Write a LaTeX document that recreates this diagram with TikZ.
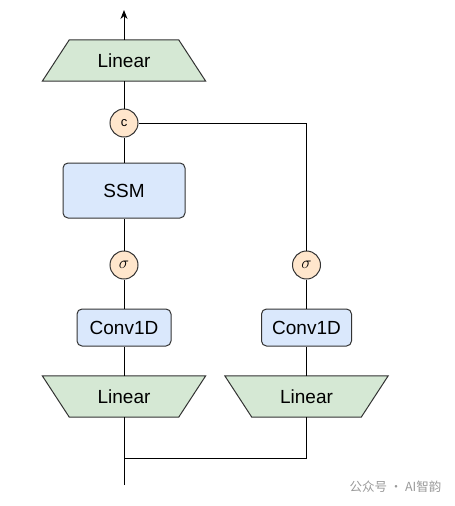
\documentclass[tikz,border=0pt]{standalone}
\usepackage{fontspec}
\setmainfont{Liberation Sans}
\newfontfamily\cjkfont{Noto Sans CJK SC}
\usetikzlibrary{arrows.meta,backgrounds}
\definecolor{lingreen}{HTML}{D5E8D4}
\definecolor{ssmblue}{HTML}{DAE8FC}
\definecolor{gateorange}{HTML}{FFE6CC}
\definecolor{edgegray}{HTML}{333333}
\tikzset{
  every node/.style={font=\fontsize{19}{22}\selectfont},
  linbox/.style={rectangle, minimum width=163pt, minimum height=41pt, inner sep=0pt},
  linshape/.style={draw=edgegray, line width=1pt, fill=lingreen, line join=miter},
  bluebox/.style={rounded corners=5pt, draw=edgegray, line width=1pt, fill=ssmblue, inner sep=0pt},
  gate/.style={circle, draw=edgegray, line width=1pt, fill=gateorange, minimum size=28pt, inner sep=0pt},
  wire/.style={line width=1pt, draw=black},
}
\begin{document}
\begin{tikzpicture}[x=1pt,y=-1pt]
\useasboundingbox (0,0) rectangle (455,506);
% left column
\node[linbox] (lintop) at (124,60.5) {Linear};
\node[gate, font=\fontsize{13}{15}\selectfont] (cat) at (124,123) {c};
\node[bluebox, minimum width=122pt, minimum height=55pt] (ssm) at (124,190.5) {SSM};
\node[gate, font=\fontsize{17}{19}\selectfont] (sigl) at (124,265) {$\sigma$};
\node[bluebox, minimum width=94pt, minimum height=37pt] (convl) at (124,327.5) {Conv1D};
\node[linbox] (linl) at (124,396.5) {Linear};
% right column
\node[gate, font=\fontsize{17}{19}\selectfont] (sigr) at (306.5,265) {$\sigma$};
\node[bluebox, minimum width=90pt, minimum height=37pt] (convr) at (306.5,327.5) {Conv1D};
\node[linbox] (linr) at (306.5,396.5) {Linear};
% trapezoid outlines
\begin{scope}[on background layer]
\draw[linshape] ([xshift=27pt]lintop.north west) -- ([xshift=-27pt]lintop.north east) -- (lintop.south east) -- (lintop.south west) -- cycle;
\draw[linshape] (linl.north west) -- (linl.north east) -- ([xshift=-27pt]linl.south east) -- ([xshift=27pt]linl.south west) -- cycle;
\draw[linshape] (linr.north west) -- (linr.north east) -- ([xshift=-27pt]linr.south east) -- ([xshift=27pt]linr.south west) -- cycle;
\end{scope}
% coordinates
\coordinate (out) at (124,10);
\coordinate (in) at (124,485);
\coordinate (split) at (124,458);
% wires
\draw[wire, -{Stealth[length=9pt,width=7pt]}] (lintop.north) -- (out);
\draw[wire] (cat.north) -- (lintop.south);
\draw[wire] (ssm.north) -- (cat.south);
\draw[wire] (sigl.north) -- (ssm.south);
\draw[wire] (convl.north) -- (sigl.south);
\draw[wire] (linl.north) -- (convl.south);
\draw[wire] (in) -- (linl.south);
\draw[wire] (linr.south) |- (split);
\draw[wire] (convr.north) -- (sigr.south);
\draw[wire] (linr.north) -- (convr.south);
\draw[wire] (sigr.north) |- (cat.east);
% watermark
\node[font=\cjkfont\fontsize{12.5}{15}\selectfont, text=gray!80, anchor=west] (wm) at (346,487) {公众号 · AI智韵};
\end{tikzpicture}
\end{document}
